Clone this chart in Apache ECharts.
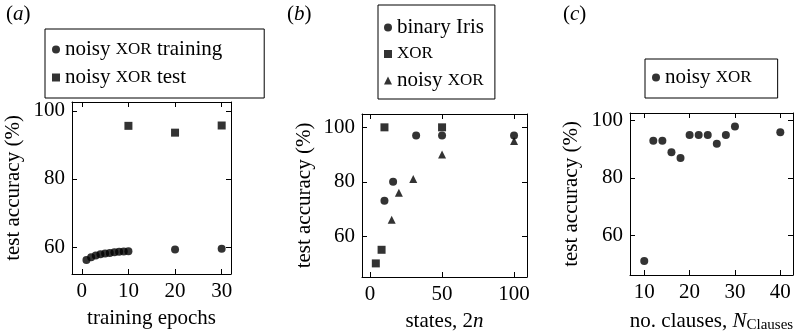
<!DOCTYPE html>
<html>
	<head>
		<meta charset="utf-8" />
		<title></title>
		<script src="https://cdn.jsdelivr.net/npm/echarts@6/dist/echarts.min.js" type="text/javascript" charset="utf-8"></script>
		<style type="text/css">
			html, body { margin: 0; padding: 0; background: #fff; }
			#main { width: 799px; height: 334px; }
		</style>
	</head>
	<body>
		<div id="main"></div>
		<script type="text/javascript">
			// (a) 训练轮数
			var epochsTrain = [1, 2, 3, 4, 5, 6, 7, 8, 9, 10, 20, 30];
			var accTrain = [56.2, 57.0, 57.5, 57.9, 58.1, 58.3, 58.5, 58.6, 58.7, 58.8, 59.3, 59.5];
			var epochsTest = [10, 20, 30];
			var accTest = [95.6, 93.6, 95.7];
			// (b) 状态数
			var statesIris = [10, 16, 32, 50, 100];
			var accIris = [73, 80, 97, 97, 97];
			var statesXor = [4, 8, 10, 50];
			var accXor = [50, 55, 100, 100];
			var statesNoisy = [15, 20, 30, 50, 100];
			var accNoisy = [66, 76, 81, 90, 95];
			// (c) 子句数
			var clauses = [10, 12, 14, 16, 18, 20, 22, 24, 26, 28, 30, 40];
			var accClauses = [51, 93, 93, 89, 87, 95, 95, 95, 92, 95, 98, 96];
			// 刻度
			var ticksXA = [0, 10, 20, 30];
			var ticksXB = [0, 50, 100];
			var ticksXC = [10, 20, 30, 40];
			var ticksY = [60, 80, 100];

			var FONT = '"Liberation Serif", "Times New Roman", serif';
			var legendNames = {
				aTrain: '{n|noisy }{sc|XOR}{n| training}',
				aTest: '{n|noisy }{sc|XOR}{n| test}',
				bIris: '{n|binary Iris}',
				bXor: '{sc|XOR}',
				bNoisy: '{n|noisy }{sc|XOR}',
				cNoisy: '{n|noisy }{sc|XOR}'
			};
			var rich = {
				n: { fontFamily: FONT, fontSize: 21, fontWeight: 'normal', color: '#000' },
				sc: { fontFamily: FONT, fontSize: 17, fontWeight: 'normal', color: '#000' },
				i: { fontFamily: FONT, fontSize: 21, fontWeight: 'normal', fontStyle: 'italic', color: '#000' },
				sub: { fontFamily: FONT, fontSize: 15, fontWeight: 'normal', color: '#000', padding: [9, 0, 0, 0] }
			};

			function xAxes(grid, min, max, ticks, name) {
				var base = {
					type: 'value', gridIndex: grid, min: min, max: max,
					splitLine: { show: false },
					axisLine: { show: true, onZero: false, lineStyle: { color: '#000', width: 1 } },
					axisTick: { show: true, inside: true, length: 5, customValues: ticks, lineStyle: { color: '#000' } }
				};
				var bottom = echarts.util.merge({
					position: 'bottom',
					name: name, nameLocation: 'middle', nameGap: 34,
					nameTextStyle: { fontFamily: FONT, fontSize: 21, color: '#000', rich: rich },
					axisLabel: { show: true, margin: 7, customValues: ticks, fontFamily: FONT, fontSize: 21, color: '#000' }
				}, base, true);
				var top = echarts.util.merge({ position: 'top', axisLabel: { show: false } }, base, true);
				return [bottom, top];
			}
			function yAxes(grid, min, max, gap) {
				var base = {
					type: 'value', gridIndex: grid, min: min, max: max,
					splitLine: { show: false },
					axisLine: { show: true, onZero: false, lineStyle: { color: '#000', width: 1 } },
					axisTick: { show: true, inside: true, length: 5, customValues: ticksY, lineStyle: { color: '#000' } }
				};
				var left = echarts.util.merge({
					position: 'left',
					name: 'test accuracy (%)', nameLocation: 'middle', nameGap: gap,
					nameTextStyle: { fontFamily: FONT, fontSize: 21, color: '#000' },
					axisLabel: { show: true, margin: 7, customValues: ticksY, fontFamily: FONT, fontSize: 21, color: '#000' }
				}, base, true);
				var right = echarts.util.merge({ position: 'right', axisLabel: { show: false } }, base, true);
				return [left, right];
			}
			function pairs(xs, ys) {
				return xs.map(function(x, k) { return [x, ys[k]]; });
			}
			function scatter(name, xi, yi, symbol, size, xs, ys) {
				return {
					name: name, type: 'scatter', xAxisIndex: xi, yAxisIndex: yi,
					symbol: symbol, symbolSize: size,
					itemStyle: { color: '#000' },
					data: pairs(xs, ys)
				};
			}
			function legend(names, left, top, padding, gap) {
				return {
					data: names, orient: 'vertical', left: left, top: top,
					padding: padding, itemGap: gap, itemWidth: 8, itemHeight: 8,
					borderColor: '#000', borderWidth: 1, borderRadius: 0,
					selectedMode: false,
					formatter: function(n) { return legendNames[n]; },
					textStyle: { fontFamily: FONT, fontSize: 21, lineHeight: 20, color: '#000', rich: rich }
				};
			}
			function panelLabel(letter, left) {
				return {
					text: '{n|(}{i|' + letter + '}{n|)}', left: left, top: 4, padding: 0,
					textStyle: { fontFamily: FONT, fontWeight: 'normal', rich: rich }
				};
			}

			var myChart = echarts.init(document.getElementById('main'));
			var option = {
				animation: false,
				title: [panelLabel('a', 6), panelLabel('b', 287), panelLabel('c', 563)],
				legend: [
					legend(['aTrain', 'aTest'], 45, 29, [10, 42, 10, 7], 7),
					legend(['bIris', 'bXor', 'bNoisy'], 378, 5, [12, 11, 8, 6], 6),
					legend(['cNoisy'], 645, 59, [8, 26, 10, 7], 6)
				],
				grid: [
					{ left: 72, top: 102, width: 159, height: 172 },
					{ left: 362, top: 114, width: 165, height: 163 },
					{ left: 630, top: 113, width: 163, height: 163 }
				],
				xAxis: [].concat(
					xAxes(0, -2.1, 32, ticksXA, 'training epochs'),
					xAxes(1, -5.6, 109, ticksXB, '{n|states, 2}{i|n}'),
					xAxes(2, 6.86, 42.8, ticksXC, '{n|no. clauses, }{i|N}{sub|Clauses}')
				),
				yAxis: [].concat(
					yAxes(0, 52.1, 102.6, 48),
					yAxes(1, 45, 104.9, 47),
					yAxes(2, 46.1, 102.7, 48)
				),
				series: [
					scatter('aTrain', 0, 0, 'circle', 8, epochsTrain, accTrain),
					scatter('aTest', 0, 0, 'rect', 8, epochsTest, accTest),
					scatter('bIris', 2, 2, 'circle', 8, statesIris, accIris),
					scatter('bXor', 2, 2, 'rect', 8, statesXor, accXor),
					scatter('bNoisy', 2, 2, 'triangle', 8, statesNoisy, accNoisy),
					scatter('cNoisy', 4, 4, 'circle', 8, clauses, accClauses)
				]
			};
			myChart.setOption(option);
		</script>
	</body>
</html>
